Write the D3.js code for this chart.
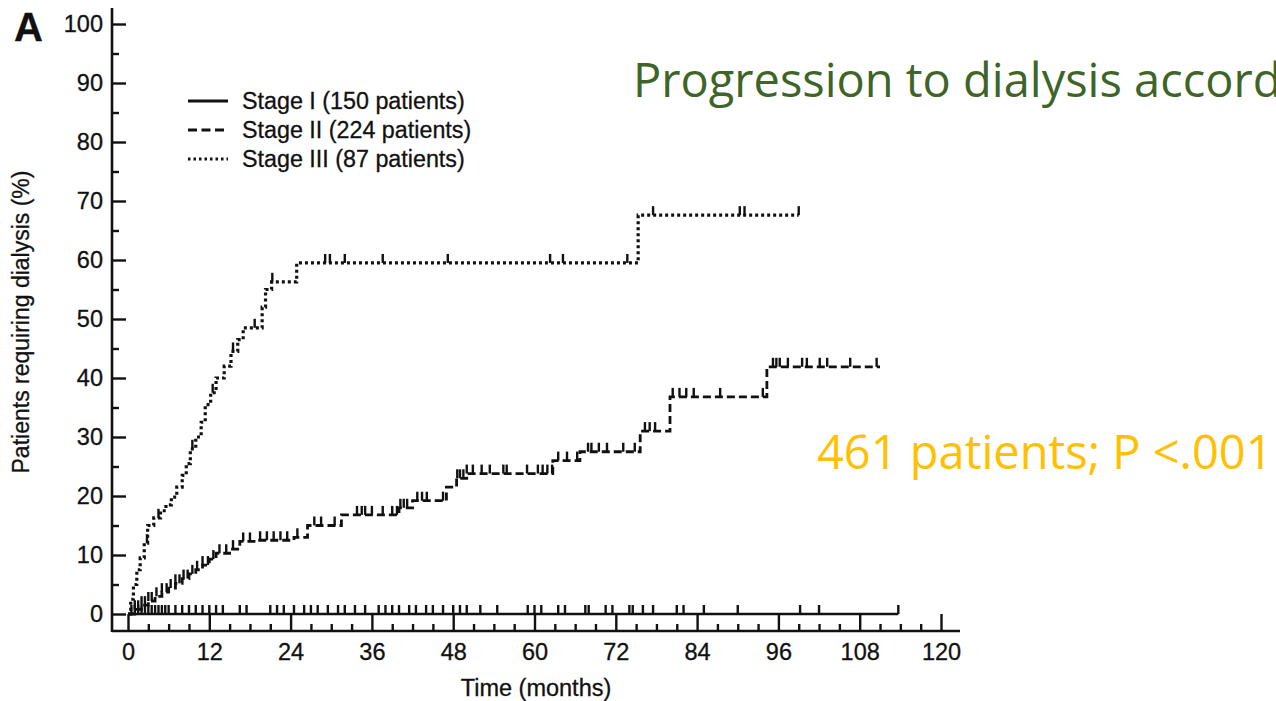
<!DOCTYPE html>
<html>
<head>
<meta charset="utf-8">
<script src="https://cdn.jsdelivr.net/npm/d3@7"></script>
<style>
  body { margin: 0; background: #fff; overflow: hidden; }
  svg { display: block; }
  .ax text { font-family: "Liberation Sans", Arial, sans-serif; font-size: 23.5px; fill: #111; stroke: #111; stroke-width: 0.3px; }
  .lab { font-family: "Liberation Sans", Arial, sans-serif; fill: #111; stroke: #111; stroke-width: 0.3px; }
</style>
</head>
<body>
<div id="chart"></div>
<script>
// x ticks (months) and y ticks (%)
var xTicks = [0, 12, 24, 36, 48, 60, 72, 84, 96, 108, 120];
var yTicks = [0, 10, 20, 30, 40, 50, 60, 70, 80, 90, 100];

var legendLabels = ["Stage I (150 patients)", "Stage II (224 patients)", "Stage III (87 patients)"];

// Kaplan-Meier steps: [month, % requiring dialysis]
var stage1 = [[0, 0], [113.7, 0]];
var stage2 = [[0, 0], [1, 0.8], [2, 1.5], [3, 2.2], [4, 3], [5, 3.7], [6, 4.4], [7, 5.2], [8, 6], [9, 6.8],
  [10, 7.5], [11, 8.3], [12, 9.3], [13, 10.3], [15, 11], [16.5, 12.3], [19, 12.5], [24.5, 13], [26.5, 15],
  [31.5, 16.8], [40, 18], [42, 19.2], [47, 21.5], [48.5, 23], [50, 23.8], [62.7, 26], [66.7, 27.5],
  [75.6, 31], [80, 36.8], [94.3, 41.9], [111, 41.9]];
var stage3 = [[0, 0], [0.4, 2.5], [0.8, 5], [1.3, 7.5], [1.8, 9.5], [2.4, 12], [2.9, 15], [3.8, 16.3],
  [4.8, 17.5], [5.6, 18.5], [6.4, 19.8], [7.2, 21.5], [8, 23.5], [8.6, 25.5], [9.2, 28], [10, 30],
  [10.8, 32.5], [11.4, 35.5], [12.2, 37.5], [13, 40], [14.2, 42], [15.2, 44.5], [16.2, 46.5], [17, 48.5],
  [19.8, 52], [20.3, 55], [21.2, 56.3], [24.9, 59.5], [75.3, 67.6], [99, 67.6]];

// censored patients (months)
var censor1 = [0.5, 1, 1.5, 2, 2.5, 3, 3.5, 4, 4.5, 5, 5.5, 6, 7, 8, 9, 10, 11, 12, 13, 14, 16.5, 17.5, 21,
  22, 23, 24.5, 26, 27, 28, 29.5, 31, 32, 33.5, 35, 37, 38, 39, 40, 41.5, 42.5, 44, 45, 46.5, 48, 49, 50,
  52, 54.5, 59, 60, 61, 63.5, 64.5, 67.5, 68, 70.5, 71.5, 74, 74.5, 76, 77.5, 81, 82, 85, 90, 99.2, 102, 113.7];
var censor2 = [1, 1.5, 2, 2.5, 3, 3.5, 4.2, 5, 5.7, 6.3, 7, 7.6, 8.2, 8.8, 9.5, 10.2, 11, 11.8, 12.6, 13.5,
  14.5, 15.5, 17, 18, 19.5, 20.5, 21.5, 22.5, 23.5, 25, 27.5, 28.5, 30.5, 33.8, 34.5, 35, 36, 37.6, 39,
  39.7, 40.2, 40.7, 41.2, 42.7, 43.4, 44.1, 46.5, 48.6, 49, 49.5, 50, 50.9, 52.2, 53.4, 55.4, 55.9, 58.9,
  60.5, 61.2, 61.9, 62.6, 63.5, 64.8, 66.3, 67.9, 68.4, 69.5, 70.7, 73.1, 74.8, 76.3, 77, 77.8, 80.4,
  81.4, 82.4, 83.5, 87.4, 93.7, 95.2, 95.7, 96.2, 97.4, 99.5, 100.2, 102.1, 103.2, 106.6, 110.5];
var censor3 = [2.8, 4.5, 9.5, 12.5, 15.5, 18.7, 21.3, 29.1, 29.8, 32, 37.6, 47.2, 62.3, 64.2, 73.7, 77.5,
  90.3, 91, 99];

var W = 1276, H = 701;
var svg = d3.select("#chart").append("svg").attr("width", W).attr("height", H);

var x = d3.scaleLinear().domain([0, 120]).range([128, 941]);
var y = d3.scaleLinear().domain([0, 100]).range([614, 24]);
var axisX = 112, axisY = 631;

// y axis: ticks pointing into the plot
var gy = svg.append("g").attr("class", "ax").attr("transform", "translate(" + axisX + ",0)");
gy.call(d3.axisLeft(y).tickValues(yTicks).tickSize(-14).tickPadding(9));
gy.append("g").call(d3.axisLeft(y).tickValues(d3.range(5, 100, 10)).tickSize(-7).tickFormat(""));
gy.selectAll(".domain").remove();
gy.selectAll("line").attr("stroke", "#111").attr("stroke-width", 2.4);
gy.append("line").attr("x1", 0).attr("x2", 0).attr("y1", 8).attr("y2", axisY + 1)
  .attr("stroke", "#111").attr("stroke-width", 2.6);

// x axis
var gx = svg.append("g").attr("class", "ax").attr("transform", "translate(0," + axisY + ")");
gx.call(d3.axisBottom(x).tickValues(xTicks).tickSize(-17).tickPadding(12));
gx.append("g").call(d3.axisBottom(x).tickValues(d3.range(3, 120, 3).filter(function (d) { return d % 12; }))
  .tickSize(-7).tickFormat(""));
gx.selectAll(".domain").remove();
gx.selectAll("line").attr("stroke", "#111").attr("stroke-width", 2.4);
gx.append("line").attr("x1", axisX).attr("x2", 960).attr("y1", 0).attr("y2", 0)
  .attr("stroke", "#111").attr("stroke-width", 2.6);

// titles
svg.append("text").attr("class", "lab").attr("x", 536).attr("y", 696).attr("text-anchor", "middle")
  .style("font-size", "23.5px").text("Time (months)");
svg.append("text").attr("class", "lab").attr("transform", "translate(29,322) rotate(-90)")
  .attr("text-anchor", "middle").style("font-size", "23px").text("Patients requiring dialysis (%)");
svg.append("text").attr("class", "lab").attr("x", 14).attr("y", 41)
  .style("font-size", "40px").style("font-weight", "bold").text("A");

// curves
var styles = [
  { data: stage1, censor: censor1, dash: null, w: 2.4 },
  { data: stage2, censor: censor2, dash: "8,4", w: 2.8 },
  { data: stage3, censor: censor3, dash: "3,3", w: 3.2 }
];
var line = d3.line().curve(d3.curveStepAfter)
  .x(function (d) { return x(d[0]); }).y(function (d) { return y(d[1]); });

function valueAt(data, t) {
  var v = 0;
  data.forEach(function (d) { if (d[0] <= t) v = d[1]; });
  return v;
}

styles.forEach(function (s) {
  svg.append("path").datum(s.data).attr("d", line).attr("fill", "none")
    .attr("stroke", "#111").attr("stroke-width", s.w).attr("stroke-dasharray", s.dash);
  svg.append("g").selectAll("line").data(s.censor).enter().append("line")
    .attr("x1", function (t) { return x(t); }).attr("x2", function (t) { return x(t); })
    .attr("y1", function (t) { return y(valueAt(s.data, t)); })
    .attr("y2", function (t) { return y(valueAt(s.data, t)) - 9; })
    .attr("stroke", "#111").attr("stroke-width", 2.4);
});

// legend
var lg = svg.append("g");
legendLabels.forEach(function (lab, i) {
  var ly = 101 + i * 29;
  lg.append("line").attr("x1", 188).attr("x2", 228).attr("y1", ly).attr("y2", ly)
    .attr("stroke", "#111").attr("stroke-width", i === 2 ? 3 : 2.8)
    .attr("stroke-dasharray", i === 0 ? null : (i === 1 ? "9,4.5" : "2.5,3"));
  lg.append("text").attr("class", "lab").attr("x", 242).attr("y", ly).attr("dy", "0.36em")
    .style("font-size", "23.3px").text(lab);
});

// slide annotations
svg.append("text").attr("x", 633).attr("y", 97)
  .style("font-family", "Comic Sans MS, Open Sans, sans-serif").style("font-size", "47px").style("fill", "#3F6428")
  .text("Progression to dialysis according");
svg.append("text").attr("x", 817).attr("y", 469)
  .style("font-family", "Comic Sans MS, Open Sans, sans-serif").style("font-size", "47px").style("fill", "#FFC000")
  .text("461 patients; P <.001");
</script>
</body>
</html>
